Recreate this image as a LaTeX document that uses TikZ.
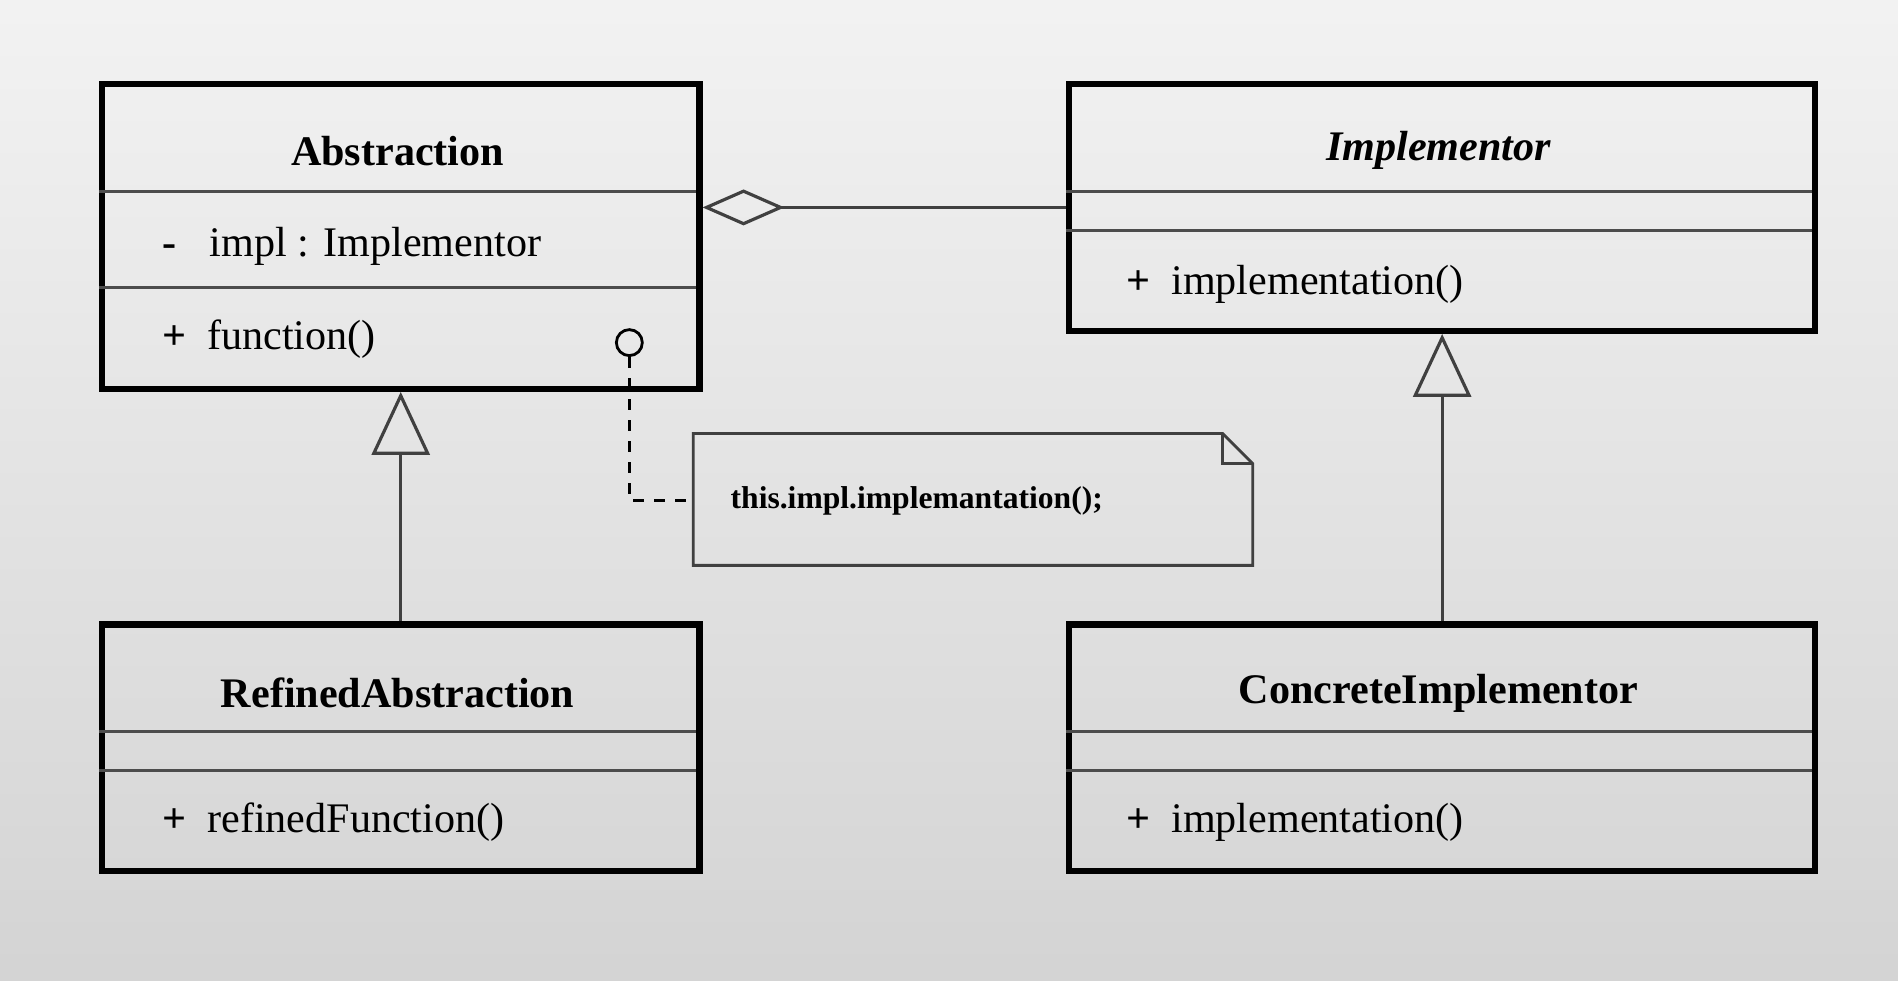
\documentclass[tikz,border=0pt]{standalone}
\usepackage{fontspec}
\setmainfont{Liberation Serif}
\usetikzlibrary{positioning,arrows.meta}

\begin{document}
\begin{tikzpicture}[
    cls/.style={draw,line width=1.8pt,minimum width=#1,anchor=north west,inner sep=0pt},
    sep/.style={draw=black!70,line width=0.8pt},
    title/.style={font=\fontsize{12}{14}\selectfont\bfseries},
    member/.style={anchor=west,font=\fontsize{12}{14}\selectfont},
    inh/.style={-{Triangle[open,length=0.63cm,width=0.58cm]},line width=0.9pt,draw=black!75},
    aggr/.style={-{Diamond[open,length=0.82cm,width=0.36cm]},line width=0.9pt,draw=black!75}
]
    % background
    \shade[top color=black!5,bottom color=black!17] (0,0) rectangle (19,9.82);
    \useasboundingbox (0,0) rectangle (19,9.82);

    % Classes
    \node[cls=5.98cm,minimum height=3.05cm] (abs) at (0.99,9.01) {};
    \node[cls=7.47cm,minimum height=2.47cm] (imp) at (10.67,9.01) {};
    \node[cls=5.98cm,minimum height=2.47cm] (ref) at (0.99,3.60) {};
    \node[cls=7.47cm,minimum height=2.47cm] (con) at (10.67,3.60) {};

    % compartments
    \draw[sep] (0.99,7.90) -- (6.97,7.90) (0.99,6.94) -- (6.97,6.94);
    \draw[sep] (10.67,7.90) -- (18.14,7.90) (10.67,7.51) -- (18.14,7.51);
    \draw[sep] (0.99,2.50) -- (6.97,2.50) (0.99,2.11) -- (6.97,2.11);
    \draw[sep] (10.67,2.50) -- (18.14,2.50) (10.67,2.11) -- (18.14,2.11);

    % texts
    \node[title] at (3.98,8.31) {Abstraction};
    \node[member] at (1.5,7.35) {\textbf{-}\hspace{0.8em}impl : Implementor};
    \node[member] at (1.5,6.42) {\textbf{+}\hspace{0.5em}function()};
    \node[title] at (14.40,8.31) {\itshape Implementor};
    \node[member] at (11.15,6.97) {\textbf{+}\hspace{0.5em}implementation()};
    \node[title] at (14.40,2.88) {ConcreteImplementor};
    \node[title] at (3.98,2.88) {RefinedAbstraction};
    \node[member] at (1.5,1.59) {\textbf{+}\hspace{0.5em}refinedFunction()};
    \node[member] at (11.15,1.59) {\textbf{+}\hspace{0.5em}implementation()};

    % Note
    \draw[line width=0.8pt,draw=black!75] (6.94,4.16) -- (12.54,4.16) -- (12.54,5.18)
        -- (12.24,5.48) -- (6.94,5.48) -- cycle;
    \draw[line width=0.8pt,draw=black!75] (12.24,5.48) -- (12.24,5.18) -- (12.54,5.18);
    \node[anchor=west,font=\fontsize{9}{11}\selectfont\bfseries] (note) at (6.94,4.81)
        {\hspace{0.25cm}this.impl.implemantation();};
    \node[draw,circle,line width=0.8pt,minimum size=0.26cm,inner sep=0pt] (dot) at (6.30,6.39) {};

    % Connectors
    \draw[aggr] (imp.west) -- (abs.east |- imp.west);
    \draw[inh] (ref.north) -- (abs.south);
    \draw[inh] (con.north) -- (imp.south);
    \draw[dashed,line width=0.8pt] (dot.south) |- (note.west);
\end{tikzpicture}
\end{document}
